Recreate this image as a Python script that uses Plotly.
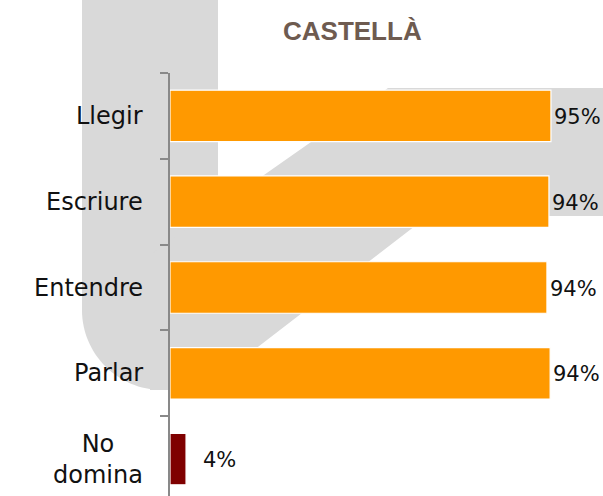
import plotly.graph_objects as go

categories = ["Llegir", "Escriure", "Entendre", "Parlar", "No domina"]
cat_labels = ["Llegir", "Escriure", "Entendre", "Parlar", "No<br>domina"]
values = [95.0, 94.5, 94.0, 94.8, 4.0]
value_labels = ["95%", "94%", "94%", "94%", "4%"]
bar_colors = ["#FF9900", "#FF9900", "#FF9900", "#FF9900", "#7F0000"]
title_text = "CASTELLÀ"

W, H = 603, 496
ML, MR, MT, MB = 170, 32, 73, 0
PW, PH = W - ML - MR, H - MT - MB


def px(x):
    return (x - ML) / PW


def py(y):
    return (H - MB - y) / PH


def path(cmds):
    out = []
    for c in cmds:
        op, pts = c[0], c[1:]
        out.append(op + " " + " ".join(f"{px(a):.4f},{py(b):.4f}" for a, b in pts))
    return " ".join(out) + " Z"


grey = "#D9D9D9"
band = path([
    ("M", (82, -5)), ("L", (218, -5)), ("L", (218, 390)), ("L", (162, 390)),
    ("C", (118, 390), (82, 354), (82, 310)),
])
diag = path([
    ("M", (388, 88)), ("L", (610, 88)), ("L", (610, 216)), ("L", (428, 216)),
    ("L", (202, 390)), ("L", (150, 390)), ("L", (150, 255)),
])

fig = go.Figure()
fig.add_trace(go.Bar(
    y=categories, x=values, orientation="h",
    marker=dict(color=bar_colors, line=dict(color="white", width=1.2)),
    hoverinfo="skip",
))

annotations = []
shifts = [1, 1, 1, 1, 15]
for c, v, t, s in zip(categories, values, value_labels, shifts):
    annotations.append(dict(x=v, y=c, xref="x", yref="y", text=t, showarrow=False,
                            xanchor="left", yanchor="middle", xshift=s, yshift=-1,
                            font=dict(family="DejaVu Sans", size=21, color="#111111")))
for c, t in zip(categories, cat_labels):
    annotations.append(dict(x=px(145), y=c, xref="paper", yref="y", text=t, showarrow=False,
                            xanchor="right", yanchor="middle", align="center",
                            font=dict(family="DejaVu Sans", size=24, color="#111111")))
annotations.append(dict(x=px(352), y=py(31), xref="paper", yref="paper", text=f"<b>{title_text}</b>",
                        showarrow=False, xanchor="center", yanchor="middle",
                        font=dict(family="Liberation Sans", size=26, color="#6E5B50")))

fig.update_layout(
    width=W, height=H,
    margin=dict(l=ML, r=MR, t=MT, b=MB, pad=0),
    paper_bgcolor="white", plot_bgcolor="rgba(0,0,0,0)",
    showlegend=False, bargap=0.4,
    annotations=annotations,
    shapes=[
        dict(type="path", path=band, xref="paper", yref="paper", fillcolor=grey, line=dict(width=0), layer="below"),
        dict(type="path", path=diag, xref="paper", yref="paper", fillcolor=grey, line=dict(width=0), layer="below"),
    ],
    xaxis=dict(range=[0, 100], visible=False, fixedrange=True),
    yaxis=dict(type="category", categoryorder="array", categoryarray=categories,
               range=[4.43, -0.5], showticklabels=False, showgrid=False, zeroline=False,
               showline=True, linecolor="#898989", linewidth=2, fixedrange=True,
               ticks="outside", tickson="boundaries", ticklen=8, tickwidth=2, tickcolor="#898989"),
)

fig.write_html("out.html", config={"displayModeBar": False, "staticPlot": True},
               post_script="document.body.style.margin='0';document.body.style.overflow='hidden';")
